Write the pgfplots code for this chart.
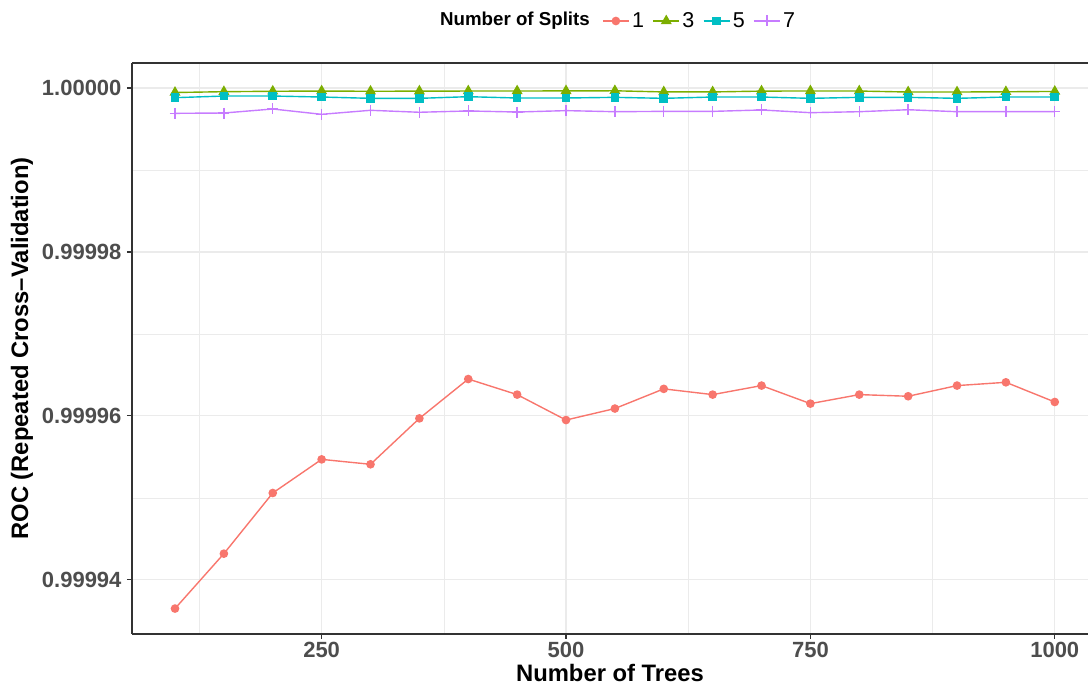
\documentclass[border=0pt]{standalone}
\usepackage{pgfplots}
\pgfplotsset{compat=1.18}
\usepackage{fontspec}
\setmainfont{Liberation Sans}
\definecolor{cR}{HTML}{F8766D}
\definecolor{cG}{HTML}{7CAE00}
\definecolor{cC}{HTML}{00BFC4}
\definecolor{cP}{HTML}{C77CFF}
\definecolor{gridgray}{HTML}{EBEBEB}
\definecolor{labgray}{HTML}{4D4D4D}
\definecolor{axgray}{HTML}{333333}
% ROC values stored as (ROC - 0.9999) * 1e5
\pgfplotstableread{
x s1 s3 s5 s7
100 3.65 9.945 9.882 9.691
150 4.32 9.955 9.902 9.695
200 5.06 9.960 9.902 9.744
250 5.47 9.963 9.890 9.679
300 5.41 9.960 9.874 9.728
350 5.97 9.962 9.874 9.704
400 6.45 9.963 9.894 9.720
450 6.26 9.963 9.878 9.707
500 5.95 9.965 9.878 9.724
550 6.09 9.966 9.886 9.711
600 6.33 9.952 9.874 9.715
650 6.26 9.952 9.890 9.715
700 6.37 9.962 9.890 9.732
750 6.15 9.964 9.874 9.699
800 6.26 9.963 9.886 9.711
850 6.24 9.951 9.886 9.735
900 6.37 9.951 9.874 9.711
950 6.41 9.954 9.890 9.711
1000 6.17 9.958 9.890 9.711
}\roc
\begin{document}
\begin{tikzpicture}
\begin{axis}[
  scale only axis, width=956pt, height=571pt,
  xmin=56, xmax=1034, ymin=3.34, ymax=10.305,
  axis x line*=box, axis y line*=left,
  axis line style={-, color=axgray, line width=1.1pt},
  xtick={250,500,750,1000}, ytick={4,6,8,10},
  yticklabels={0.99994,0.99996,0.99998,1.00000},
  minor xtick={125,375,625,875}, minor ytick={5,7,9},
  xtick pos=bottom, ytick pos=left,
  grid=both,
  major grid style={color=gridgray, line width=1.1pt},
  minor grid style={color=gridgray, line width=0.6pt},
  tick align=outside, major tick length=5pt, minor tick length=0pt,
  every tick/.style={color=axgray, line width=1.1pt},
  /pgf/number format/assume math mode=true,
  /pgf/number format/1000 sep={},
  ticklabel style={font=\bfseries\fontsize{22}{24}\selectfont, text=labgray},
  yticklabel style={xshift=-2pt},
  xlabel={\bfseries Number of Trees},
  ylabel={\bfseries ROC (Repeated Cross–Validation)},
  label style={font=\bfseries\fontsize{23.8}{26}\selectfont},
  xlabel style={at={(axis description cs:0.5,0)}, anchor=center, yshift=-39pt},
  ylabel style={at={(axis description cs:-0.1151,0.5)}, anchor=center},
  legend columns=-1,
  legend style={name=leg, draw=none, fill=none, inner sep=0pt,
    at={(axis description cs:0,1)}, anchor=west, xshift=470pt, yshift=42pt,
    font=\fontsize{21.5}{24}\selectfont,
    nodes={inner xsep=2.5pt, inner ysep=0pt},
    /tikz/every odd column/.style={column sep=0pt},
    /tikz/every even column/.style={column sep=6pt}},
  legend cell align=left,
  legend image code/.code={\draw[mark repeat=2,mark phase=2] plot coordinates {(0pt,0pt) (13pt,0pt) (26pt,0pt)};},
]
\addplot[cR, line width=1.4pt, mark=*, mark size=3.6pt] table[x=x,y=s1]{\roc};
\addlegendentry{1}
\addplot[cG, line width=1.4pt, mark=triangle*, mark size=5pt] table[x=x,y=s3]{\roc};
\addlegendentry{3}
\addplot[cC, line width=1.4pt, mark=square*, mark size=3.6pt] table[x=x,y=s5]{\roc};
\addlegendentry{5}
\addplot[cP, line width=1.4pt, mark=+, mark size=5.5pt, mark options={line width=1.4pt}] table[x=x,y=s7]{\roc};
\addlegendentry{7}
\end{axis}
\node[anchor=east, font=\bfseries\fontsize{18.7}{21}\selectfont, inner sep=0pt] at ([xshift=-12pt]leg.west) {Number of Splits};
\pgfresetboundingbox
\path[use as bounding box] (-132pt,-57pt) rectangle (956pt,634pt);
\end{tikzpicture}
\end{document}
